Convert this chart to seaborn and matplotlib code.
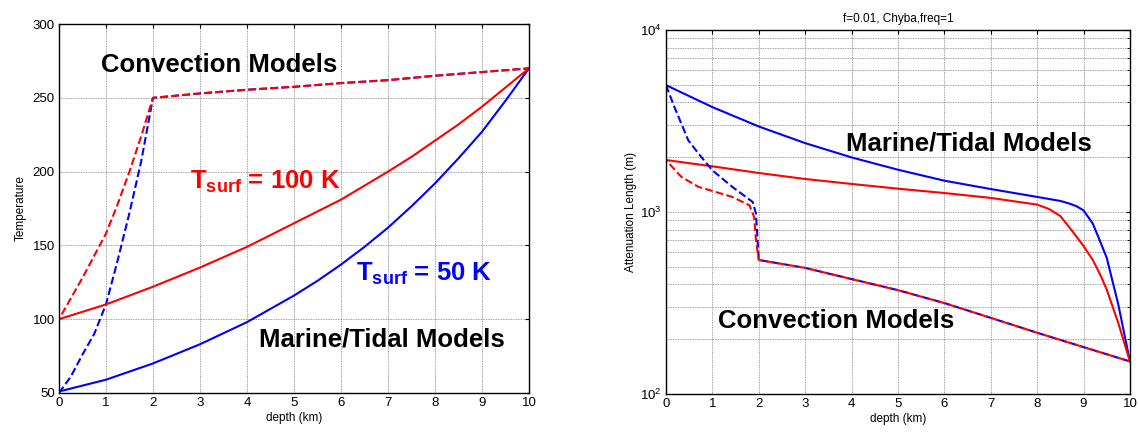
import numpy as np
import pandas as pd
import matplotlib
matplotlib.use("Agg")
import matplotlib.pyplot as plt
import seaborn as sns
from matplotlib.ticker import LogLocator, NullFormatter

sns.set_style("white")
plt.rcParams['font.family'] = ['Liberation Sans', 'DejaVu Sans']
plt.rcParams['mathtext.fontset'] = 'custom'
plt.rcParams['mathtext.rm'] = 'Liberation Sans'
plt.rcParams['mathtext.bf'] = 'Liberation Sans:bold'
plt.rcParams['text.color'] = 'black'
plt.rcParams['axes.labelcolor'] = 'black'
plt.rcParams['xtick.color'] = 'black'
plt.rcParams['ytick.color'] = 'black'

# ---------------- data: left panel (temperature) ----------------
depth_marine_T = [0, 0.5, 1, 1.5, 2, 2.5, 3, 3.5, 4, 4.5, 5, 5.5, 6, 6.5, 7, 7.5, 8, 8.5, 9, 9.5, 10]
temp100_marine = [100, 105, 110, 116, 122, 128.5, 135, 142, 149, 157, 165, 173, 181, 190.5,
                  200, 210, 221, 232, 244, 257, 270]
temp50_marine = [51, 55, 59, 64.5, 70, 76.5, 83, 90.5, 98, 107, 116, 126, 137, 149,
                 162, 176.5, 192, 209, 227, 248, 270]

depth_conv_T = [0, 0.25, 0.5, 0.75, 1, 1.25, 1.5, 1.75, 2, 3, 4, 5, 6, 7, 8, 9, 10]
temp100_conv = [100, 114, 128, 143, 158, 178, 200, 224, 250, 253, 255.5, 257.5, 260, 262, 265, 267.5, 270]
temp50_conv = [50, 61, 76, 90, 110, 140, 172, 207, 250, 253, 255.5, 257.5, 260, 262, 265, 267.5, 270]

# ---------------- data: right panel (attenuation length) ----------------
depth_marine50_L = [0, 1, 2, 3, 4, 5, 6, 7, 8, 8.5, 8.7, 8.85, 9, 9.2, 9.35, 9.5, 9.75, 10]
atten50_marine = [4980, 3770, 2950, 2390, 1995, 1707, 1486, 1337, 1210, 1150, 1112, 1075, 1021,
                  863, 698, 560, 310, 151]
depth_marine100_L = [0, 1, 2, 3, 4, 5, 6, 7, 8, 8.25, 8.5, 8.75, 9, 9.2, 9.35, 9.5, 9.75, 10]
atten100_marine = [1930, 1782, 1638, 1518, 1426, 1343, 1271, 1195, 1098, 1040, 950, 790,
                   650, 545, 458, 375, 245, 151]

depth_conv_L = [0, 0.18, 0.48, 0.7, 1, 1.43, 1.87, 1.94, 2, 3, 4, 5, 6, 7, 8, 9, 10]
atten50_conv = [4980, 3785, 2480, 2096, 1694, 1374, 1135, 980, 545,
                493, 428, 372, 316, 262, 217, 181, 151]
depth_conv100_L = [0, 0.33, 0.7, 1, 1.43, 1.8, 1.9, 1.94, 2, 3, 4, 5, 6, 7, 8, 9, 10]
atten100_conv = [1930, 1560, 1374, 1305, 1210, 1088, 940, 700, 545,
                 493, 428, 372, 316, 262, 217, 181, 151]

RED = '#ff0000'
BLUE = '#0000ff'
DASH_BLUE = (0, (3.7, 1.6))
DASH_RED = (2.65, (3.7, 1.6))

fig = plt.figure(figsize=(11.38, 4.34), dpi=100)
axL = fig.add_axes([0.0518, 0.0945, 0.413, 0.850])
axR = fig.add_axes([0.5852, 0.0922, 0.4077, 0.8387])


def style_axes(ax):
    ax.tick_params(direction='in', top=True, right=True, length=3, width=0.8,
                   labelsize=9.5, pad=3)
    ax.tick_params(which='minor', direction='in', top=True, right=True, length=2)
    for s in ax.spines.values():
        s.set_color('black')
        s.set_linewidth(1.0)
        s.set_visible(True)


BIG = 18.5

# ---------------- left panel ----------------
sns.lineplot(x=depth_conv_T, y=temp50_conv, ax=axL, color=BLUE, lw=1.5, linestyle=DASH_BLUE)
sns.lineplot(x=depth_conv_T, y=temp100_conv, ax=axL, color=RED, lw=1.5, linestyle=DASH_RED)
sns.lineplot(x=depth_marine_T, y=temp50_marine, ax=axL, color=BLUE, lw=1.5)
sns.lineplot(x=depth_marine_T, y=temp100_marine, ax=axL, color=RED, lw=1.5)

axL.set_xlim(0, 10)
axL.set_ylim(50, 300)
axL.set_xticks(range(0, 11))
axL.set_yticks(range(50, 301, 50))
axL.grid(True, which='major', color='#808080', linestyle=(0, (1, 1)), linewidth=0.6)
axL.set_xlabel('depth (km)', fontsize=8.5, labelpad=2)
axL.set_ylabel('Temperature', fontsize=8.5, labelpad=4)
style_axes(axL)

axL.text(0.89, 272, 'Convection Models', fontsize=BIG, fontweight='bold', ha='left', va='center')
axL.text(4.25, 86, 'Marine/Tidal Models', fontsize=BIG, fontweight='bold', ha='left', va='center')
axL.text(2.79, 193, r'T$_{\mathbf{surf}}$ = 100 K', fontsize=BIG, fontweight='bold',
         color=RED, ha='left', va='center')
axL.text(6.31, 131, r'T$_{\mathbf{surf}}$ = 50 K', fontsize=BIG, fontweight='bold',
         color=BLUE, ha='left', va='center')

# ---------------- right panel ----------------
sns.lineplot(x=depth_marine50_L, y=atten50_marine, ax=axR, color=BLUE, lw=1.5)
sns.lineplot(x=depth_marine100_L, y=atten100_marine, ax=axR, color=RED, lw=1.5)
sns.lineplot(x=depth_conv_L, y=atten50_conv, ax=axR, color=BLUE, lw=1.5, linestyle=DASH_BLUE)
sns.lineplot(x=depth_conv100_L, y=atten100_conv, ax=axR, color=RED, lw=1.5, linestyle=DASH_RED)

axR.set_yscale('log')
axR.set_xlim(0, 10)
axR.set_ylim(100, 10000)
axR.set_xticks(range(0, 11))
axR.yaxis.set_major_locator(LogLocator(base=10, numticks=5))
axR.yaxis.set_minor_locator(LogLocator(base=10, subs=np.arange(2, 10), numticks=20))
axR.yaxis.set_minor_formatter(NullFormatter())
axR.grid(True, which='major', color='#808080', linestyle=(0, (1, 1)), linewidth=0.6)
axR.grid(True, which='minor', axis='y', color='#808080', linestyle=(0, (1, 1)), linewidth=0.6)
axR.set_xlabel('depth (km)', fontsize=8.5, labelpad=2)
axR.set_ylabel('Attenuation Length (m)', fontsize=8.5, labelpad=2)
axR.set_title('f=0.01, Chyba,freq=1', fontsize=8.5, pad=6)
style_axes(axR)

axR.text(3.88, 2380, 'Marine/Tidal Models', fontsize=BIG, fontweight='bold', ha='left', va='center')
axR.text(1.12, 251, 'Convection Models', fontsize=BIG, fontweight='bold', ha='left', va='center')

fig.savefig('out.png', dpi=100)
